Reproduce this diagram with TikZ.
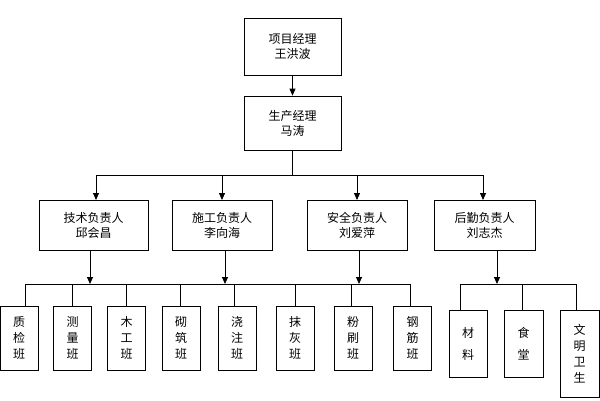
\documentclass[tikz,border=0pt]{standalone}
\usepackage{fontspec}
\newfontfamily\cjk{Noto Sans CJK SC}
\usetikzlibrary{arrows.meta}
\begin{document}
\begin{tikzpicture}[x=1pt,y=-1pt,
  box/.style={draw,line width=0.8pt,font=\cjk\fontsize{12}{15}\selectfont,align=center,inner sep=0pt},
  vbox/.style={draw,line width=0.8pt,font=\cjk\fontsize{12}{16}\selectfont,align=center,inner sep=0pt},
  ln/.style={line width=0.8pt},
  arr/.style={ln,-{Triangle[length=7pt,width=6pt]}}]
\useasboundingbox (0,0) rectangle (600,400);
\node[box,minimum width=97pt,minimum height=57pt] (a) at (292.5,46.5) {项目经理\\王洪波};
\node[box,minimum width=97pt,minimum height=54pt] (b) at (292.5,123) {生产经理\\马涛};
\node[box,minimum width=109pt,minimum height=50pt] (c1) at (93.5,225) {技术负责人\\邱会昌};
\node[box,minimum width=100pt,minimum height=50pt] (c2) at (222,225) {施工负责人\\李向海};
\node[box,minimum width=100pt,minimum height=50pt] (c3) at (357,225) {安全负责人\\刘爱萍};
\node[box,minimum width=101pt,minimum height=50pt] (c4) at (484.5,225) {后勤负责人\\刘志杰};
\draw[arr] (a) -- (b);
\coordinate (h) at (292.5,175);
\draw[ln] (b) -- (h);
\draw[ln] (96,175) -- (483,175);
\foreach \i/\x in {1/96,2/222,3/357,4/483} \draw[arr] (\x,175) -- (\x,200);
% bottom
\foreach \n/\x/\t in {d1/19/质\\检\\班, d2/72.5/测\\量\\班, d3/126.5/木\\工\\班, d4/181/砌\\筑\\班, d5/237/浇\\注\\班, d6/295/抹\\灰\\班, d7/353/粉\\刷\\班, d8/412.5/钢\\筋\\班}
  \node[vbox,minimum width=38pt,minimum height=64pt] (\n) at (\x,338) {\t};
\node[vbox,minimum width=38pt,minimum height=67pt] (e1) at (468,343.5) {材\\[6pt]料};
\node[vbox,minimum width=39pt,minimum height=67pt] (e2) at (523.5,343.5) {食\\[6pt]堂};
\node[vbox,minimum width=39pt,minimum height=87pt] (e3) at (579.5,353.5) {文\\明\\卫\\生};
\draw[ln] (25,284) -- (410,284);
\draw[ln] (460,284) -- (576,284);
\foreach \x in {90,225,359,497} \draw[arr] (\x,250) -- (\x,284);
\foreach \x in {25,72,126,180,234,295,351,410} \draw[ln] (\x,284) -- (\x,306);
\foreach \x in {460,522,576} \draw[ln] (\x,284) -- (\x,310);
\end{tikzpicture}
\end{document}
